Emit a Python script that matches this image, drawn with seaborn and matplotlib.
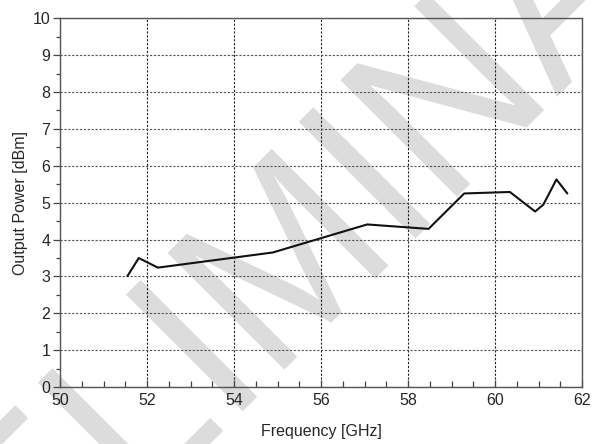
import matplotlib
matplotlib.use('Agg')
import matplotlib.pyplot as plt
import seaborn as sns
from matplotlib.font_manager import FontProperties
from matplotlib.patches import PathPatch
from matplotlib.textpath import TextPath
from matplotlib.transforms import Affine2D
from matplotlib.ticker import MultipleLocator

# Werte
freq_ghz = [51.55, 51.81, 52.25, 54.89, 57.06, 58.47, 59.29, 60.34, 60.92, 61.11, 61.41, 61.66]
power_dbm = [3.01, 3.50, 3.24, 3.65, 4.41, 4.29, 5.25, 5.29, 4.76, 4.95, 5.63, 5.25]
x_ticks = [50, 52, 54, 56, 58, 60, 62]
y_ticks = list(range(0, 11))

sns.set_style('ticks')
plt.rcParams['font.family'] = ['Liberation Sans', 'DejaVu Sans']
plt.rcParams['font.size'] = 11.5

fig = plt.figure(figsize=(5.94, 4.44), dpi=100)

# Wasserzeichen "PRELIMINARY" hinter allem
wm = TextPath((0, 0), 'PRELIMINARY', size=1, prop=FontProperties(family='Liberation Sans'))
wm_tr = Affine2D().scale(220, 240).rotate_deg(45).translate(-178, -388)
fig.add_artist(PathPatch(wm, transform=wm_tr, facecolor='#dcdcdc', edgecolor='none', zorder=-1))

ax = fig.add_axes([0.101, 0.128, 0.879, 0.831])
ax.set_facecolor('none')

sns.lineplot(x=freq_ghz, y=power_dbm, color='#111111', linewidth=1.5, ax=ax, zorder=3)

ax.set_xlim(50, 62)
ax.set_ylim(0, 10)
ax.set_xticks(x_ticks)
ax.set_yticks(y_ticks)
ax.xaxis.set_minor_locator(MultipleLocator(0.5))
ax.yaxis.set_minor_locator(MultipleLocator(0.5))

ax.tick_params(axis='x', which='major', direction='in', length=5, width=0.9, color='#444444', pad=4, labelsize=11.5)
ax.tick_params(axis='x', which='minor', direction='in', length=4, width=0.9, color='#444444')
ax.tick_params(axis='y', which='major', direction='out', length=5, width=0.9, color='#444444', pad=2, labelsize=11.5)
ax.tick_params(axis='y', which='minor', direction='out', length=3, width=0.9, color='#444444')

ax.xaxis.grid(True, which='major', color='#222222', linestyle=(0, (2, 1.5)), linewidth=0.8)
ax.yaxis.grid(True, which='major', color='#555555', linestyle=(0, (2, 1.5)), linewidth=0.8)

for s in ax.spines.values():
    s.set_color('#555555')
    s.set_linewidth(1.0)

ax.set_xlabel('Frequency [GHz]', fontsize=11.5, labelpad=12)
ax.set_ylabel('Output Power [dBm]', fontsize=11.5, labelpad=3)

fig.savefig('out.png', dpi=100)
